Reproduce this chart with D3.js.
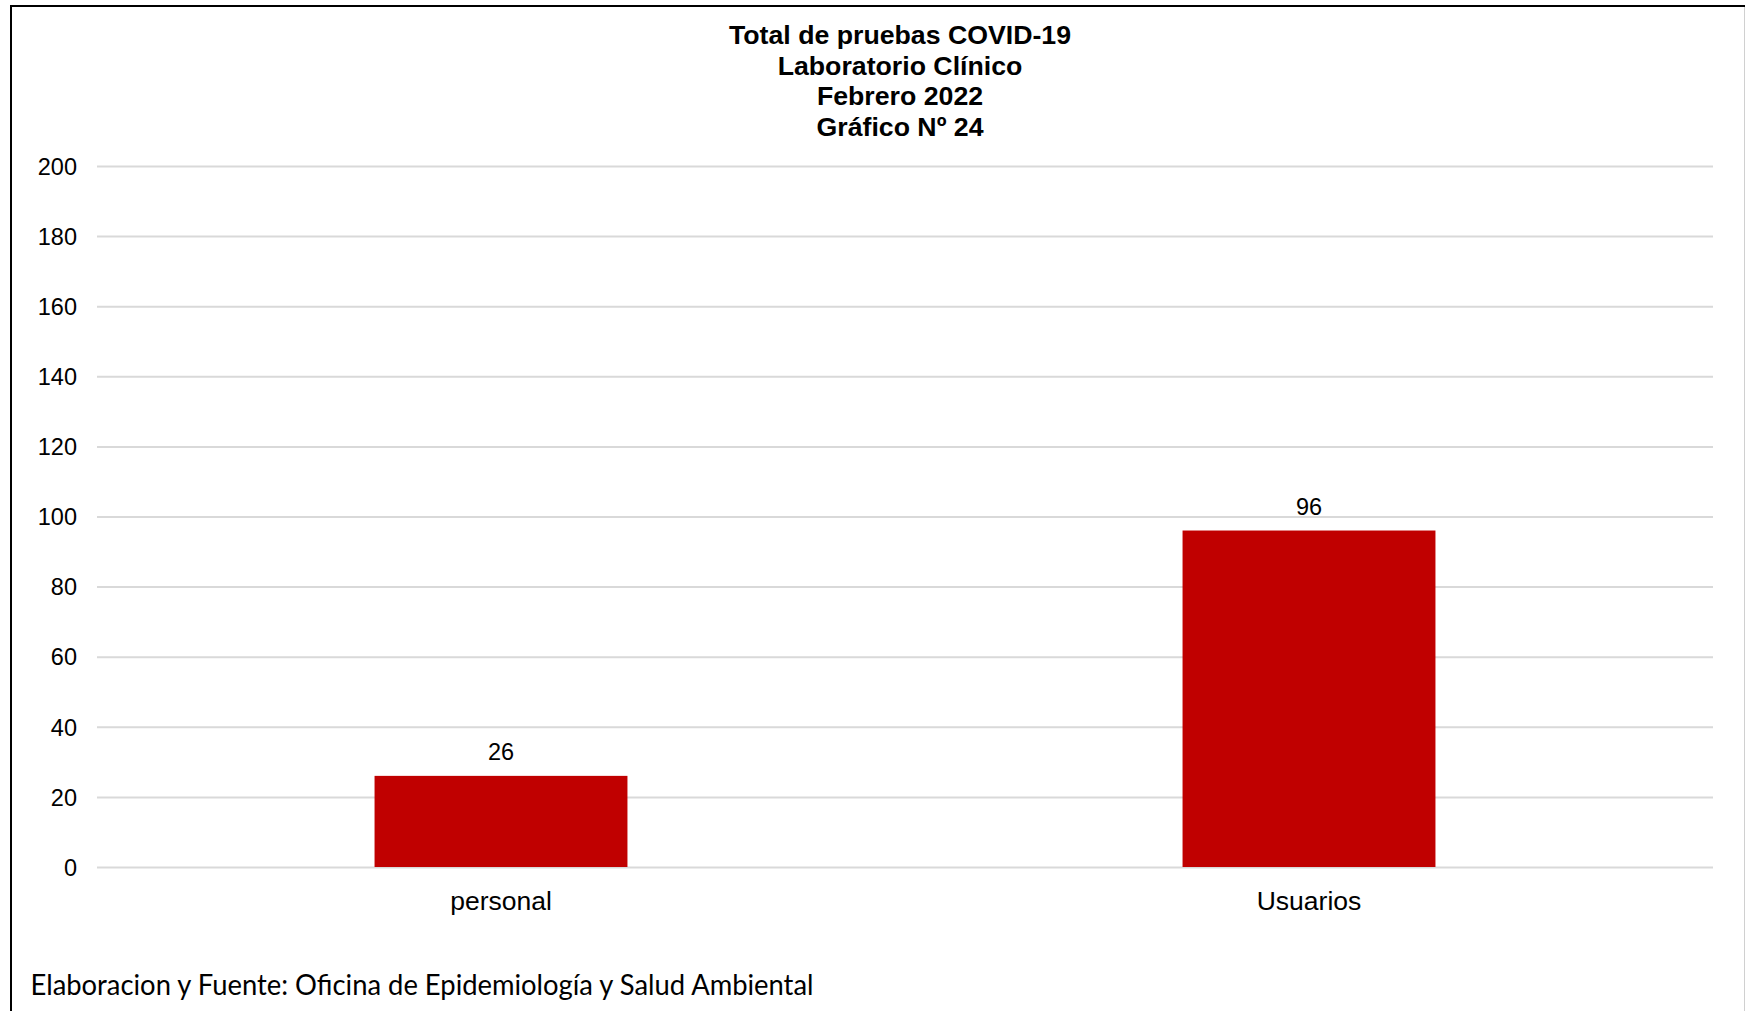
<!DOCTYPE html>
<html>
<head>
<meta charset="utf-8">
<script src="https://cdn.jsdelivr.net/npm/d3@7"></script>
<style>
  html, body { margin: 0; padding: 0; background: #ffffff; }
  svg { display: block; }
</style>
</head>
<body>
<svg id="chart" width="1745" height="1011"></svg>
<script>
const categories = ["personal", "Usuarios"];
const values = [26, 96];
const yTickValues = [0, 20, 40, 60, 80, 100, 120, 140, 160, 180, 200];
const titleLines = ["Total de pruebas COVID-19", "Laboratorio Clínico", "Febrero 2022", "Gráfico Nº 24"];
const footerText = "Elaboracion y Fuente: Oficina de Epidemiología y Salud Ambiental";

const W = 1745, H = 1011;
const plot = { left: 97, right: 1713, top: 166, bottom: 867 };

const svg = d3.select("#chart");
svg.append("rect").attr("width", W).attr("height", H).attr("fill", "#ffffff");

// outer frame
svg.append("line").attr("x1", 10).attr("x2", W).attr("y1", 6).attr("y2", 6)
  .attr("stroke", "#000").attr("stroke-width", 2);
svg.append("line").attr("x1", 11).attr("x2", 11).attr("y1", 5).attr("y2", H)
  .attr("stroke", "#000").attr("stroke-width", 2);
svg.append("line").attr("x1", 1744.5).attr("x2", 1744.5).attr("y1", 7).attr("y2", H)
  .attr("stroke", "#d0d0d0").attr("stroke-width", 1);

const x = d3.scaleBand().domain(categories).range([plot.left, plot.right])
  .paddingInner(0.687).paddingOuter(0.3435);
const y = d3.scaleLinear().domain([0, 200]).range([plot.bottom, plot.top]);

// gridlines
const yAxis = d3.axisLeft(y).tickValues(yTickValues).tickSize(-(plot.right - plot.left)).tickPadding(20);
const gy = svg.append("g").attr("transform", `translate(${plot.left},0)`).call(yAxis);
gy.select(".domain").remove();
gy.selectAll(".tick line").attr("stroke", "#d9d9d9").attr("stroke-width", 2);
gy.selectAll(".tick text")
  .attr("font-family", "'Liberation Sans', Arial, sans-serif")
  .attr("font-size", 23.5).attr("fill", "#000").attr("dy", "0.35em");

// bars
svg.append("g").selectAll("rect").data(values).join("rect")
  .attr("x", (d, i) => x(categories[i]))
  .attr("width", x.bandwidth())
  .attr("y", d => y(d))
  .attr("height", d => y(0) - y(d))
  .attr("fill", "#c00000");

// value labels
svg.append("g").selectAll("text").data(values).join("text")
  .attr("x", (d, i) => x(categories[i]) + x.bandwidth() / 2)
  .attr("y", d => y(d) - 16)
  .attr("text-anchor", "middle")
  .attr("font-family", "'Liberation Sans', Arial, sans-serif")
  .attr("font-size", 23.5).attr("fill", "#000")
  .text(d => d);

// category axis labels
const xAxis = d3.axisBottom(x).tickSize(0).tickPadding(24);
const gx = svg.append("g").attr("transform", `translate(0,${plot.bottom})`).call(xAxis);
gx.select(".domain").remove();
gx.selectAll(".tick text")
  .attr("font-family", "'Liberation Sans', Arial, sans-serif")
  .attr("font-size", 26.5).attr("fill", "#000");

// title
const title = svg.append("text")
  .attr("text-anchor", "middle")
  .attr("font-family", "'Liberation Sans', Arial, sans-serif")
  .attr("font-weight", "bold").attr("font-size", 26.7).attr("fill", "#000");
titleLines.forEach((t, i) => {
  title.append("tspan").attr("x", 900).attr("y", 44 + i * 30.5).text(t);
});

// footer
svg.append("text")
  .attr("x", 30.5).attr("y", 995)
  .attr("font-family", "Lato, 'Open Sans', sans-serif")
  .attr("font-size", 28.5).attr("fill", "#000")
  .attr("textLength", 783).attr("lengthAdjust", "spacingAndGlyphs")
  .text(footerText);
</script>
</body>
</html>
